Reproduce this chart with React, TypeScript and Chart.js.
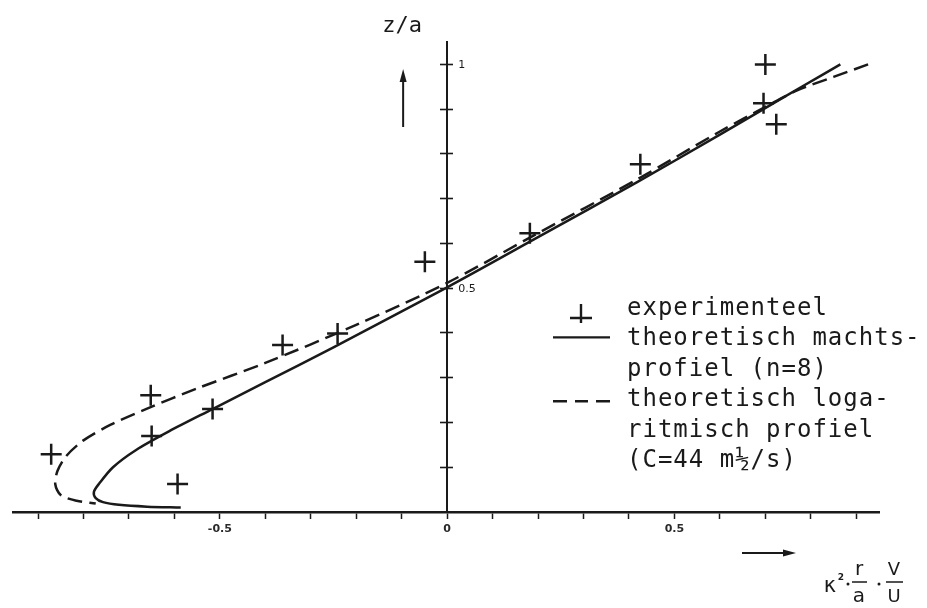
import { useEffect, useRef } from 'react';
import { Chart, registerables } from 'chart.js';

Chart.register(...registerables);

// Measured velocity profile (crosses)
const measuredX = [0.700, 0.696, 0.724, 0.425, 0.182, -0.049, -0.241, -0.362, -0.516, -0.652, -0.650, -0.871, -0.593];
const measuredZ = [1.0, 0.913, 0.866, 0.777, 0.623, 0.559, 0.399, 0.373, 0.230, 0.261, 0.170, 0.129, 0.0625];

// Theoretical power-law profile (n=8), solid curve
const powerX = [0.865, 0.78, 0.696, 0.60, 0.418, 0.191, 0.0, -0.25, -0.40, -0.516, -0.612, -0.685, -0.735, -0.765, -0.777, -0.773, -0.757, -0.722, -0.66, -0.586];
const powerZ = [1.0, 0.950, 0.900, 0.843, 0.737, 0.609, 0.502, 0.368, 0.290, 0.230, 0.180, 0.138, 0.100, 0.064, 0.045, 0.031, 0.022, 0.016, 0.012, 0.010];

// Theoretical logarithmic profile (C=44), dashed curve
const logX = [0.926, 0.85, 0.77, 0.70, 0.60, 0.418, 0.191, 0.0, -0.2, -0.4, -0.55, -0.66, -0.74, -0.80, -0.838, -0.857, -0.862, -0.850, -0.815, -0.773];
const logZ = [1.0, 0.972, 0.942, 0.905, 0.850, 0.743, 0.618, 0.512, 0.418, 0.333, 0.276, 0.231, 0.195, 0.160, 0.125, 0.092, 0.062, 0.038, 0.025, 0.019];

// Axis ticks and labels
const xTickValues = [-0.9, -0.8, -0.7, -0.6, -0.5, -0.4, -0.3, -0.2, -0.1, 0, 0.1, 0.2, 0.3, 0.4, 0.5, 0.6, 0.7, 0.8, 0.9];
const xLabelValues = [-0.5, 0, 0.5];
const xLabelTexts = ['-0.5', '0', '0.5'];
const yTickValues = [0.1, 0.2, 0.3, 0.4, 0.5, 0.6, 0.7, 0.8, 0.9, 1.0];
const yLabelValues = [0.5, 1];
const yLabelTexts = ['0.5', '1'];

// Legend text (typewriter lines) and marker kinds
const legendLines = [
  'experimenteel',
  'theoretisch machts-',
  'profiel (n=8)',
  'theoretisch loga-',
  'ritmisch profiel',
  '(C=44 m½/s)',
];
const legendMarkers = ['cross', 'solid', '', 'dashed', '', ''];

const INK = '#1a1a1a';
const MONO = '"DejaVu Sans Mono", monospace';

const toPoints = (xs: number[], zs: number[]) => xs.map((v, i) => ({ x: v, y: zs[i] }));

const inkPlugin = {
  id: 'ink',
  afterDraw(chart: any) {
    const { ctx } = chart;
    const xs = chart.scales.x;
    const ys = chart.scales.y;
    const x0 = xs.getPixelForValue(0);
    ctx.save();
    ctx.fillStyle = INK;
    ctx.strokeStyle = INK;

    // y-axis value labels, right of the axis
    ctx.font = '11px "DejaVu Sans"';
    ctx.textAlign = 'left';
    ctx.textBaseline = 'middle';
    yLabelValues.forEach((v, i) => {
      ctx.fillText(yLabelTexts[i], x0 + 11, ys.getPixelForValue(v) + 1);
    });

    // axis name z/a with upward arrow
    ctx.font = '22px ' + MONO;
    ctx.textAlign = 'center';
    ctx.textBaseline = 'alphabetic';
    ctx.fillText('z/a', x0 - 45, 32);
    const ax = x0 - 44;
    ctx.lineWidth = 2;
    ctx.beginPath();
    ctx.moveTo(ax, 127);
    ctx.lineTo(ax, 78);
    ctx.stroke();
    ctx.beginPath();
    ctx.moveTo(ax, 69);
    ctx.lineTo(ax - 3.5, 82);
    ctx.lineTo(ax + 3.5, 82);
    ctx.closePath();
    ctx.fill();

    // arrow to the right for the horizontal quantity
    const ay = 553;
    ctx.beginPath();
    ctx.moveTo(742, ay);
    ctx.lineTo(785, ay);
    ctx.stroke();
    ctx.beginPath();
    ctx.moveTo(796, ay);
    ctx.lineTo(783, ay - 3.5);
    ctx.lineTo(783, ay + 3.5);
    ctx.closePath();
    ctx.fill();

    // horizontal quantity: kappa^2 . r/a . V/U
    ctx.textAlign = 'center';
    ctx.font = '21px "DejaVu Sans"';
    ctx.fillText('κ', 830, 592);
    ctx.font = 'bold 9px "DejaVu Sans"';
    ctx.fillText('2', 841, 580);
    ctx.beginPath();
    ctx.arc(848, 584, 1.5, 0, Math.PI * 2);
    ctx.arc(879, 584, 1.5, 0, Math.PI * 2);
    ctx.fill();
    ctx.font = '20px "DejaVu Sans"';
    ctx.fillText('r', 859, 575);
    ctx.fillText('a', 859, 602);
    ctx.font = '18px "DejaVu Sans"';
    ctx.fillText('V', 894, 575);
    ctx.fillText('U', 894, 602);
    ctx.lineWidth = 1.6;
    ctx.beginPath();
    ctx.moveTo(852, 582);
    ctx.lineTo(867, 582);
    ctx.moveTo(886, 582);
    ctx.lineTo(903, 582);
    ctx.stroke();

    // legend
    const tx = 627;
    const lh = 30.4;
    const b0 = 315;
    ctx.font = '24px ' + MONO;
    ctx.textAlign = 'left';
    ctx.textBaseline = 'alphabetic';
    (ctx as any).letterSpacing = '1px';
    legendLines.forEach((line, i) => {
      const base = b0 + i * lh;
      ctx.fillText(line, tx, base);
      const kind = legendMarkers[i];
      ctx.lineWidth = 2.4;
      if (kind === 'cross') {
        ctx.beginPath();
        ctx.moveTo(581, base - 11);
        ctx.lineTo(581, base + 8);
        ctx.moveTo(570, base + 3);
        ctx.lineTo(592, base + 3);
        ctx.stroke();
      } else if (kind === 'solid') {
        ctx.beginPath();
        ctx.moveTo(553, base - 8);
        ctx.lineTo(610, base - 8);
        ctx.stroke();
      } else if (kind === 'dashed') {
        ctx.beginPath();
        ctx.moveTo(553, base - 5);
        ctx.lineTo(567, base - 5);
        ctx.moveTo(575, base - 5);
        ctx.lineTo(588, base - 5);
        ctx.moveTo(596, base - 5);
        ctx.lineTo(610, base - 5);
        ctx.stroke();
      }
    });
    (ctx as any).letterSpacing = '0px';
    ctx.restore();
  },
};

export default function App() {
  const ref = useRef<HTMLCanvasElement | null>(null);

  useEffect(() => {
    if (!ref.current) return;
    Chart.defaults.font.family = '"DejaVu Sans", sans-serif';
    const chart = new Chart(ref.current, {
      type: 'scatter',
      data: {
        datasets: [
          {
            label: 'experimenteel',
            data: toPoints(measuredX, measuredZ),
            pointStyle: 'cross',
            pointRadius: 10.5,
            pointBorderWidth: 2.5,
            borderColor: INK,
            backgroundColor: INK,
            showLine: false,
          },
          {
            label: 'theoretisch machtsprofiel (n=8)',
            data: toPoints(powerX, powerZ),
            showLine: true,
            pointRadius: 0,
            borderColor: INK,
            borderWidth: 2.5,
            tension: 0.3,
          },
          {
            label: 'theoretisch logaritmisch profiel (C=44 m½/s)',
            data: toPoints(logX, logZ),
            showLine: true,
            pointRadius: 0,
            borderColor: INK,
            borderWidth: 2.5,
            borderDash: [15, 7],
            tension: 0.3,
          },
        ],
      },
      options: {
        responsive: false,
        animation: false,
        layout: { padding: { left: 12, right: 48, top: 42, bottom: 0 } },
        plugins: { legend: { display: false }, tooltip: { enabled: false } },
        scales: {
          x: {
            type: 'linear',
            min: -0.955,
            max: 0.95,
            afterBuildTicks: (s: any) => {
              s.ticks = xTickValues.map((v) => ({ value: v }));
            },
            afterFit: (s: any) => {
              s.height = 96;
            },
            border: { display: true, color: INK, width: 2.5 },
            grid: { display: true, drawOnChartArea: false, drawTicks: true, tickLength: 7, tickWidth: 1.5, tickColor: INK },
            ticks: {
              autoSkip: false,
              maxRotation: 0,
              padding: 4,
              color: '#2a2a2a',
              font: { size: 11, weight: 'bold' },
              callback: (value: any) => {
                const i = xLabelValues.findIndex((v) => Math.abs(v - Number(value)) < 1e-6);
                return i >= 0 ? xLabelTexts[i] : '';
              },
            },
          },
          y: {
            type: 'linear',
            position: { x: 0 },
            min: 0,
            max: 1.05,
            afterBuildTicks: (s: any) => {
              s.ticks = yTickValues.map((v) => ({ value: v }));
            },
            border: { display: true, color: INK, width: 2 },
            grid: { display: true, drawOnChartArea: false, drawTicks: true, tickLength: 6, tickWidth: 1.6, tickColor: INK },
            ticks: { display: false },
          },
          yRight: {
            type: 'linear',
            axis: 'y',
            position: { x: 0 },
            min: 0,
            max: 1.05,
            afterBuildTicks: (s: any) => {
              s.ticks = yTickValues.map((v) => ({ value: v }));
            },
            border: { display: false },
            grid: { display: true, drawOnChartArea: false, drawTicks: true, tickLength: -6, tickWidth: 1.6, tickColor: INK },
            ticks: { display: false },
          },
        },
      } as any,
      plugins: [inkPlugin],
    });
    return () => chart.destroy();
  }, []);

  return (
    <div style={{ position: 'fixed', left: 0, top: 0, width: 927, height: 608, background: '#fff' }}>
      <canvas ref={ref} width={927} height={608} style={{ display: 'block' }} />
    </div>
  );
}
